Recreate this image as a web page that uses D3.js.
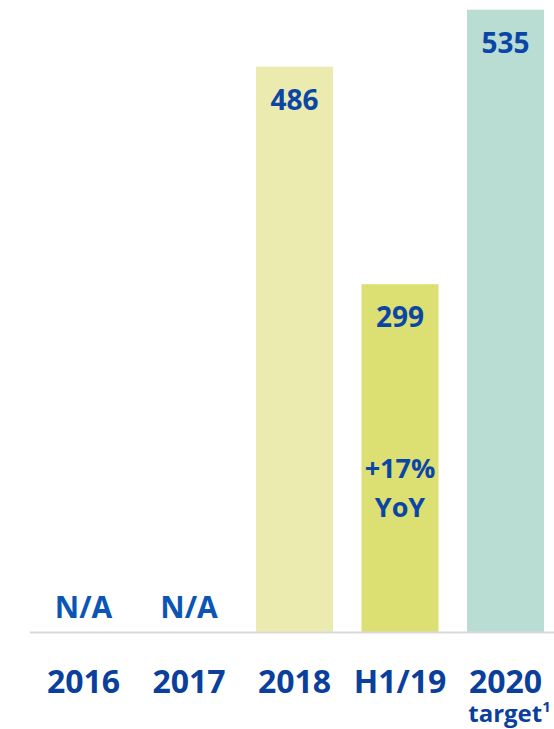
<!DOCTYPE html>
<html>
<head>
<meta charset="utf-8">
<script src="https://cdn.jsdelivr.net/npm/d3@7"></script>
<style>
  html, body { margin: 0; padding: 0; background: #fff; }
  svg { display: block; }
</style>
</head>
<body>
<svg id="chart"></svg>
<script>
// data
const categories = ["2016", "2017", "2018", "H1/19", "2020"];
const values = [null, null, 486, 299, 535]; // null -> N/A
const subLabels = ["", "", "", "", "target"];
const growthNote = ["+17%", "YoY"]; // written inside the H1/19 bar

const width = 554;
const height = 729;

// colours per category
const barColor = {
  "2018": "#ebebb0",
  "H1/19": "#dcdf72",
  "2020": "#b9dcd3"
};
const valueBlue = "#0b46a6";
const naBlue = "#0b56b5";
const axisBlue = "#0a409c";
const font = "'Open Sans', 'DejaVu Sans', sans-serif";

const svg = d3.select("#chart")
    .attr("width", width)
    .attr("height", height)
    .attr("viewBox", [0, 0, width, height]);

const x = d3.scaleBand()
    .domain(categories)
    .range([45, 544])
    .paddingInner(0.27)
    .paddingOuter(0);

const y = d3.scaleLinear()
    .domain([0, 535])
    .range([632, 9.7]);

const data = categories.map((c, i) => ({cat: c, value: values[i], sub: subLabels[i]}));

// bars
svg.append("g")
  .selectAll("rect")
  .data(data.filter(d => d.value != null))
  .join("rect")
    .attr("x", d => x(d.cat))
    .attr("y", d => y(d.value))
    .attr("width", x.bandwidth())
    .attr("height", d => y(0) - y(d.value))
    .attr("fill", d => barColor[d.cat]);

// baseline
svg.append("line")
    .attr("x1", 30)
    .attr("x2", width)
    .attr("y1", y(0) + 0.5)
    .attr("y2", y(0) + 0.5)
    .attr("stroke", "#dadada")
    .attr("stroke-width", 2);

// values at top of bars
svg.append("g")
    .attr("font-family", font)
    .attr("font-weight", 700)
    .attr("font-size", 28)
    .attr("text-anchor", "middle")
    .attr("fill", valueBlue)
  .selectAll("text")
  .data(data.filter(d => d.value != null))
  .join("text")
    .attr("x", d => x(d.cat) + x.bandwidth() / 2)
    .attr("y", d => y(d.value) + 43)
    .text(d => d.value);

// N/A labels
svg.append("g")
    .attr("font-family", font)
    .attr("font-weight", 700)
    .attr("font-size", 30)
    .attr("text-anchor", "middle")
    .attr("fill", naBlue)
  .selectAll("text")
  .data(data.filter(d => d.value == null))
  .join("text")
    .attr("x", d => x(d.cat) + x.bandwidth() / 2)
    .attr("y", y(0) - 14)
    .text("N/A");

// growth note inside H1/19 bar
svg.append("g")
    .attr("font-family", font)
    .attr("font-weight", 700)
    .attr("font-size", 27)
    .attr("text-anchor", "middle")
    .attr("fill", valueBlue)
  .selectAll("text")
  .data(growthNote)
  .join("text")
    .attr("x", x("H1/19") + x.bandwidth() / 2)
    .attr("y", (d, i) => y(0) - 154 + i * 38.7)
    .text(d => d);

// category labels
svg.append("g")
    .attr("font-family", font)
    .attr("font-weight", 700)
    .attr("font-size", 32)
    .attr("text-anchor", "middle")
    .attr("fill", axisBlue)
  .selectAll("text")
  .data(data)
  .join("text")
    .attr("x", d => x(d.cat) + x.bandwidth() / 2)
    .attr("y", 693)
    .text(d => d.cat);

// "target" with footnote mark
const sub = svg.append("g")
    .attr("font-family", font)
    .attr("font-weight", 700)
    .attr("font-size", 24)
    .attr("text-anchor", "middle")
    .attr("fill", axisBlue)
  .selectAll("text")
  .data(data.filter(d => d.sub))
  .join("text")
    .attr("x", d => x(d.cat) + x.bandwidth() / 2 + 4)
    .attr("y", 722);

sub.append("tspan").text(d => d.sub);
sub.append("tspan")
    .attr("font-size", 15)
    .attr("dy", -10)
    .text("1");
</script>
</body>
</html>
